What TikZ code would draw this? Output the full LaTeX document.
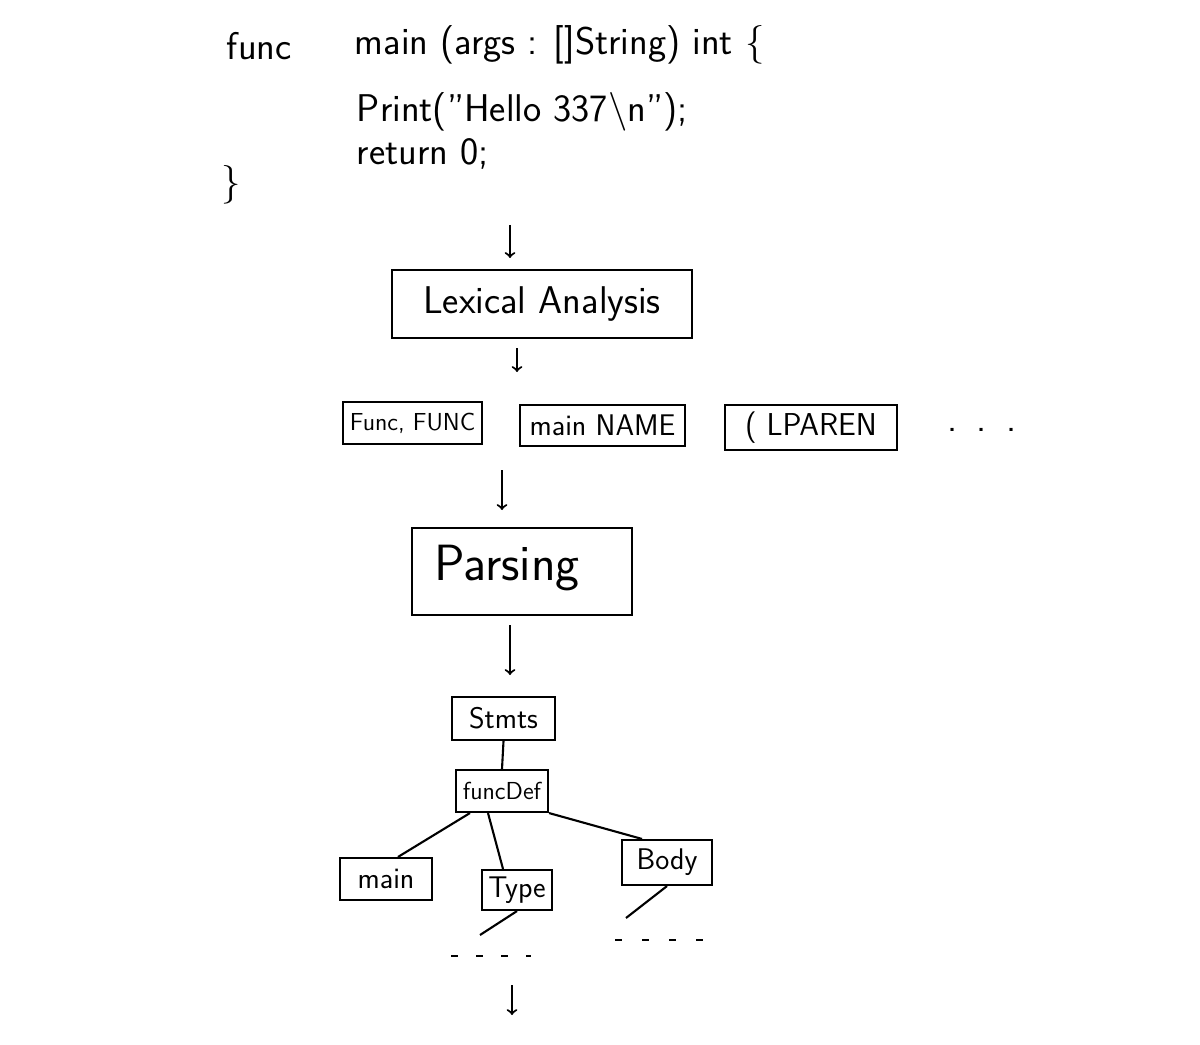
\documentclass[tikz,border=0pt]{standalone}
\usepackage{tikz}
\usetikzlibrary{calc}

\begin{document}
\begin{tikzpicture}[line width=1.2pt,
  box/.style={draw,inner sep=0pt},
  code/.style={anchor=base west,font=\sffamily\fontsize{22}{24}\selectfont},
  tok/.style={box,font=\sffamily\fontsize{14}{16}\selectfont},
  leaf/.style={box,font=\sffamily\fontsize{17}{19}\selectfont}]
\useasboundingbox (0,0) rectangle (24,-20.88);
% source text
\node[code] (kw) at (4.4,-1.2) {func};
\node[code] (sig) at (6.96,-1.1) {main (args : []String) int \{};
\node[code] (prt) at (7.0,-2.44) {Print("Hello 337\textbackslash n");};
\node[code] (ret) at (7.0,-3.3) {return 0;};
\node[code] (cl) at (4.3,-3.9) {\}};
% stages
\node[box,minimum width=6cm,minimum height=1.36cm,font=\sffamily\fontsize{22}{24}\selectfont] (lex) at (10.84,-6.08) {Lexical Analysis};
\node[tok,minimum width=2.78cm,minimum height=0.84cm] (t1) at (8.25,-8.46) {Func, FUNC};
\node[tok,minimum width=3.3cm,minimum height=0.82cm,font=\sffamily\fontsize{17}{19}\selectfont] (t2) at (12.05,-8.51) {main NAME};
\node[tok,minimum width=3.44cm,minimum height=0.9cm,font=\sffamily\fontsize{18}{20}\selectfont] (t3) at (16.22,-8.55) {( LPAREN};
\node[font=\sffamily\fontsize{22}{22}\selectfont] (more) at (19.64,-8.6) {.\,\,\,.\,\,\,.};
\node[box,minimum width=4.4cm,text height=0.94cm,text depth=0.6cm,inner ysep=0.1cm,font=\sffamily\fontsize{29}{31}\selectfont] (parse) at (10.44,-11.43) {Parsing\hspace*{0.6cm}};
% tree
\node[leaf,minimum width=2.06cm,minimum height=0.86cm] (stmts) at (10.07,-14.37) {Stmts};
\node[leaf,minimum width=1.84cm,minimum height=0.84cm,font=\sffamily\fontsize{14}{16}\selectfont] (fdef) at (10.04,-15.82) {funcDef};
\node[leaf,minimum width=1.84cm,minimum height=0.84cm] (nm) at (7.72,-17.58) {main};
\node[leaf,minimum width=1.4cm,minimum height=0.8cm] (ty) at (10.34,-17.8) {Type};
\node[leaf,minimum width=1.8cm,minimum height=0.9cm] (bd) at (13.34,-17.25) {Body};
% free ends
\coordinate (a0) at (10.2,-4.5);
\coordinate (b0) at (10.2,-5.16);
\coordinate (a1) at (10.34,-6.96);
\coordinate (b1) at (10.34,-7.44);
\coordinate (a2) at (10.04,-9.4);
\coordinate (b2) at (10.04,-10.2);
\coordinate (a3) at (10.2,-12.5);
\coordinate (b3) at (10.2,-13.5);
\coordinate (a4) at (10.24,-19.7);
\coordinate (b4) at (10.24,-20.3);
\coordinate (tyend) at (9.6,-18.7);
\coordinate (bdend) at (12.52,-18.36);
\draw[->] (a0)--(b0);
\draw[->] (a1)--(b1);
\draw[->] (a2)--(b2);
\draw[->] (a3)--(b3);
\draw[->] (a4)--(b4);
\draw (stmts.south)--(fdef.north);
\draw ([xshift=0.3cm]fdef.south west)--([xshift=0.24cm]nm.north);
\draw ([xshift=-0.28cm]fdef.south)--([xshift=-0.28cm]ty.north);
\draw (fdef.south east)--([xshift=-0.5cm]bd.north);
\draw (ty.south)--(tyend);
\draw (bd.south)--(bdend);
\draw[dash pattern=on 0.14cm off 0.36cm] (9.02,-19.12)--(10.62,-19.12);
\draw[dash pattern=on 0.14cm off 0.4cm] (12.3,-18.8)--(14.4,-18.8);
\end{tikzpicture}
\end{document}
